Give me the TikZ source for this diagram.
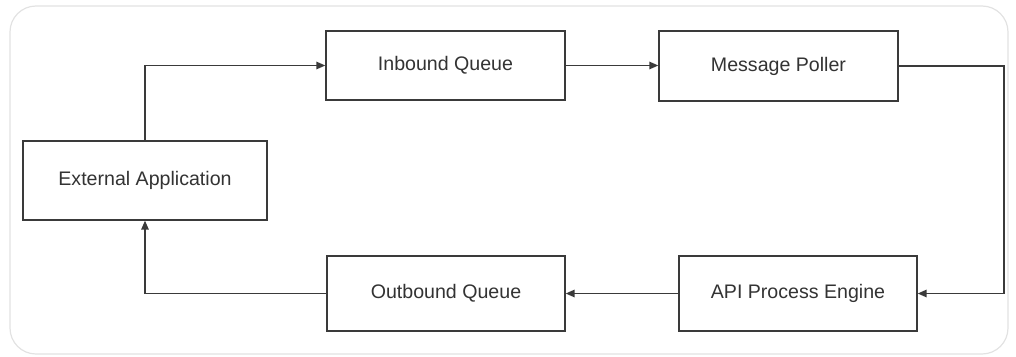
\documentclass[tikz,border=0pt]{standalone}
\usepackage{fontspec}
\setmainfont{Liberation Sans}
\usetikzlibrary{arrows.meta}
\definecolor{linegray}{HTML}{3A3A3A}
\definecolor{framegray}{HTML}{E2E2E2}
\definecolor{textgray}{HTML}{333333}
\begin{document}
\begin{tikzpicture}[x=1pt,y=-1pt,
  procbox/.style={draw=linegray, line width=1.4pt, fill=white, text=textgray,
    font=\fontsize{19.6}{22}\selectfont, align=center, inner sep=0pt},
  conn/.style={draw=linegray, line width=1.5pt},
  arr/.style={conn, -{Triangle[length=9pt,width=7.5pt]}}]
\useasboundingbox (0,0) rectangle (1016,356);
\draw[framegray, line width=1.2pt, rounded corners=26pt] (10,6) rectangle (1008,354);
\node[procbox, minimum width=244pt, minimum height=79pt] (ext) at (145,180.5) {External Application};
\node[procbox, minimum width=239pt, minimum height=69pt] (inb) at (445.5,65.5) {Inbound Queue};
\node[procbox, minimum width=239pt, minimum height=70pt] (pol) at (778.5,66) {Message Poller};
\node[procbox, minimum width=238pt, minimum height=75pt] (api) at (798,293.5) {API Process Engine};
\node[procbox, minimum width=238pt, minimum height=75pt] (out) at (446,293.5) {Outbound Queue};
\coordinate (rt) at (1004,180);
\draw[arr] (ext.north) |- (inb.west);
\draw[arr] (inb.east) -- (inb.east -| pol.west);
\draw[arr] (pol.east) -| (rt) |- (api.east);
\draw[arr] (api.west) -- (out.east);
\draw[arr] (out.west) -| (ext.south);
\end{tikzpicture}
\end{document}
